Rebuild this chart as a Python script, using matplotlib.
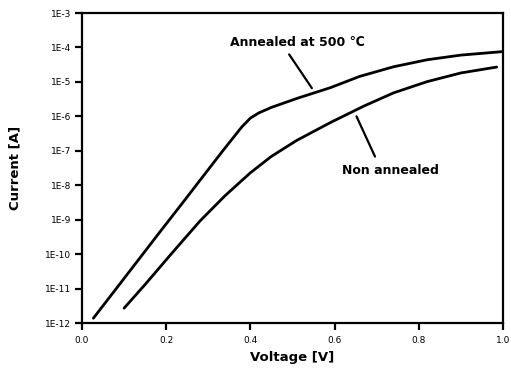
import matplotlib
matplotlib.use("Agg")
import matplotlib.pyplot as plt
import matplotlib.ticker as mticker

# I-V curves (voltage in V, current in A)
annealed_v = [0.027, 0.08, 0.13, 0.185, 0.24, 0.28, 0.335, 0.38, 0.40, 0.42,
              0.45, 0.51, 0.59, 0.66, 0.74, 0.82, 0.90, 1.00]
annealed_i = [1.38e-12, 9.5e-12, 5.9e-11, 4.4e-10, 3.2e-9, 1.38e-8, 1.02e-7,
              5.0e-7, 8.9e-7, 1.26e-6, 1.82e-6, 3.3e-6, 6.8e-6, 1.45e-5,
              2.75e-5, 4.4e-5, 6.0e-5, 7.6e-5]

non_annealed_v = [0.10, 0.15, 0.21, 0.28, 0.34, 0.40, 0.45, 0.51, 0.59, 0.67,
                  0.74, 0.82, 0.90, 0.985]
non_annealed_i = [2.7e-12, 1.32e-11, 9.5e-11, 9.1e-10, 5.0e-9, 2.3e-8, 6.9e-8,
                  2.0e-7, 6.6e-7, 2.0e-6, 4.8e-6, 1.02e-5, 1.82e-5, 2.7e-5]

y_ticks = [1e-12, 1e-11, 1e-10, 1e-9, 1e-8, 1e-7, 1e-6, 1e-5, 1e-4, 1e-3]
y_tick_labels = ['1E-12', '1E-11', '1E-10', '1E-9', '1E-8', '1E-7',
                 '1E-6', '1E-5', '1E-4', '1E-3']
x_ticks = [0.0, 0.2, 0.4, 0.6, 0.8, 1.0]
x_tick_labels = ['0.0', '0.2', '0.4', '0.6', '0.8', '1.0']

plt.rcParams['font.family'] = ['DejaVu Sans']

fig = plt.figure(figsize=(5.11, 3.72), dpi=100)
ax = fig.add_axes([0.1605, 0.1317, 0.8238, 0.8333])

ax.plot(annealed_v, annealed_i, color='black', linewidth=2.0,
        solid_capstyle='round', solid_joinstyle='round')
ax.plot(non_annealed_v, non_annealed_i, color='black', linewidth=2.0,
        solid_capstyle='round', solid_joinstyle='round')

ax.set_yscale('log')
ax.set_xlim(0.0, 1.0)
ax.set_ylim(1e-12, 1e-3)
ax.set_yticks(y_ticks)
ax.set_yticklabels(y_tick_labels)
ax.yaxis.set_minor_locator(mticker.NullLocator())
ax.set_xticks(x_ticks)
ax.set_xticklabels(x_tick_labels)

for s in ax.spines.values():
    s.set_linewidth(1.6)
ax.tick_params(axis='both', which='major', direction='out', length=5, width=1.6,
               labelsize=6.5, top=False, right=False)
ax.tick_params(axis='x', pad=4)
ax.tick_params(axis='y', pad=3)

ax.set_xlabel('Voltage [V]', fontsize=9.5, fontweight='bold', labelpad=5)
ax.set_ylabel('Current [A]', fontsize=9.5, fontweight='bold', labelpad=17)

# labels with pointer lines
ax.annotate('', xy=(0.546, 6.6e-6), xytext=(0.492, 6.3e-5),
            arrowprops=dict(arrowstyle='-', color='black', linewidth=1.6,
                            shrinkA=0, shrinkB=0))
ax.text(0.511, 1.35e-4, 'Annealed at 500 ℃', fontsize=9, fontweight='bold',
        ha='center', va='center')

ax.annotate('', xy=(0.652, 1.0e-6), xytext=(0.696, 6.8e-8),
            arrowprops=dict(arrowstyle='-', color='black', linewidth=1.6,
                            shrinkA=0, shrinkB=0))
ax.text(0.732, 2.75e-8, 'Non annealed', fontsize=9, fontweight='bold',
        ha='center', va='center')

fig.savefig('out.png', dpi=100)
